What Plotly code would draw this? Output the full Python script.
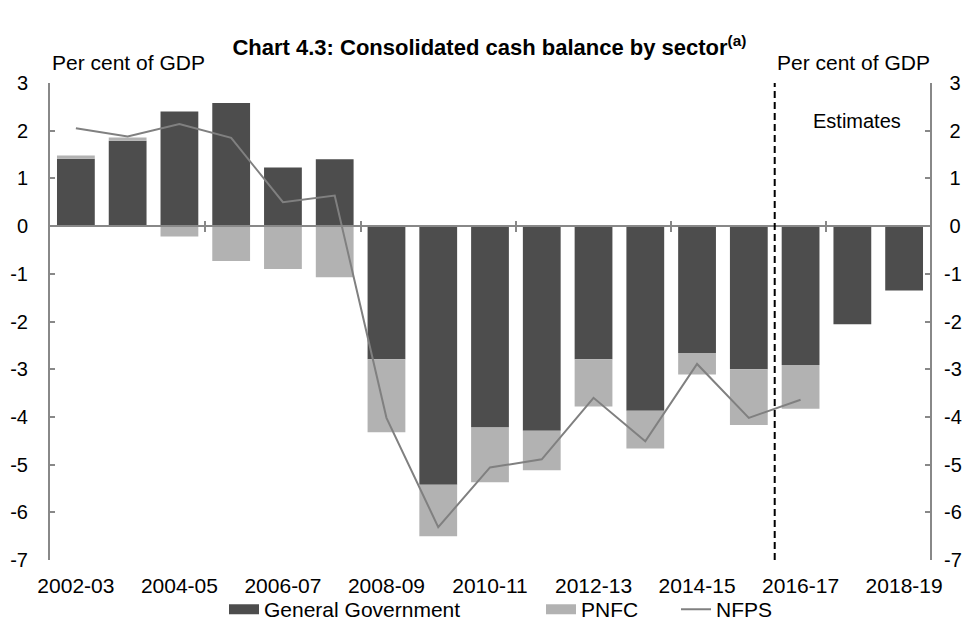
import plotly.graph_objects as go

categories = ["2002-03", "2003-04", "2004-05", "2005-06", "2006-07", "2007-08",
              "2008-09", "2009-10", "2010-11", "2011-12", "2012-13", "2013-14",
              "2014-15", "2015-16", "2016-17", "2017-18", "2018-19"]
general_government = [1.41, 1.79, 2.40, 2.58, 1.23, 1.40, -2.79, -5.42, -4.22,
                      -4.29, -2.79, -3.87, -2.66, -3.00, -2.91, -2.06, -1.35]
pnfc = [0.07, 0.07, -0.22, -0.73, -0.90, -1.07, -1.53, -1.08, -1.15, -0.83,
        -0.99, -0.79, -0.45, -1.17, -0.92, None, None]
nfps = [2.05, 1.88, 2.14, 1.85, 0.50, 0.64, -4.02, -6.31, -5.06, -4.89, -3.60,
        -4.51, -2.89, -4.02, -3.64, None, None]
label_cats = categories[::2]
y_ticks = list(range(-7, 4))
left_tick_text = [str(v) for v in y_ticks]
right_tick_text = [("\u00a0" + str(v)) if v >= 0 else str(v) for v in y_ticks]
estimates_start = "2016-17"

FONT = "Liberation Sans, Arial, sans-serif"
AXIS_GREY = "#888888"
GG_COLOR = "#4d4d4d"
PNFC_COLOR = "#b2b2b2"
NFPS_COLOR = "#808080"

fig = go.Figure()
fig.add_trace(go.Bar(x=categories, y=general_government, name="General Government",
                     marker=dict(color=GG_COLOR, line=dict(width=0)), showlegend=False))
fig.add_trace(go.Bar(x=categories, y=pnfc, name="PNFC",
                     marker=dict(color=PNFC_COLOR, line=dict(width=0)), showlegend=False))
fig.add_trace(go.Scatter(x=categories, y=nfps, name="NFPS", mode="lines",
                         line=dict(color=NFPS_COLOR, width=2), showlegend=False))

# legend entries (wide swatches like the reference), one legend each
fig.add_trace(go.Scatter(x=[None], y=[None], mode="lines", name="General Government",
                         line=dict(color=GG_COLOR, width=16), legend="legend"))
fig.add_trace(go.Scatter(x=[None], y=[None], mode="lines", name="PNFC",
                         line=dict(color=PNFC_COLOR, width=16), legend="legend2"))
fig.add_trace(go.Scatter(x=[None], y=[None], mode="lines", name="NFPS",
                         line=dict(color=NFPS_COLOR, width=2), legend="legend3"))

n = len(categories)
boundary_ticks = [i - 0.5 for i in range(3, n, 3)]
zero_pos = (0 - (-7)) / (3 - (-7))

# invisible helper traces so overlay axes render
fig.add_trace(go.Scatter(x=[-0.5, n - 0.5], y=[0, 0], xaxis="x2", yaxis="y",
                         mode="lines", line=dict(width=0), showlegend=False, hoverinfo="skip"))
fig.add_trace(go.Scatter(x=[-0.5, n - 0.5], y=[0, 0], xaxis="x3", yaxis="y",
                         mode="lines", line=dict(width=0), showlegend=False, hoverinfo="skip"))
fig.add_trace(go.Scatter(x=[categories[0]], y=[0], xaxis="x", yaxis="y2",
                         mode="lines", line=dict(width=0), showlegend=False, hoverinfo="skip"))

est_x = categories.index(estimates_start) - 0.5
fig.add_shape(type="line", xref="x", yref="y", x0=est_x, x1=est_x, y0=-7, y1=3,
              line=dict(color="black", width=2, dash="7px,4px"))

PLOT_L, PLOT_W = 50, 880
LEG_Y = -0.104


def leg(px_left):
    return dict(orientation="h", x=(px_left - PLOT_L) / PLOT_W, xanchor="left",
                y=LEG_Y, yanchor="middle", font=dict(size=21, family=FONT),
                bgcolor="rgba(0,0,0,0)", borderwidth=0)


fig.update_layout(
    template="none",
    width=973, height=626,
    margin=dict(l=50, r=43, t=83, b=66, autoexpand=False),
    paper_bgcolor="white", plot_bgcolor="white",
    barmode="relative", bargap=0.27,
    font=dict(family=FONT, size=20, color="black"),
    title=dict(text="<b>Chart 4.3: Consolidated cash balance by sector<sup>(a)</sup></b>",
               x=0.503, xanchor="center", y=0.924, yanchor="middle",
               font=dict(size=22, family=FONT)),
    xaxis=dict(type="category", range=[-0.5, n - 0.5], tickmode="array",
               tickvals=label_cats, ticktext=label_cats, showline=False,
               showgrid=False, zeroline=False, ticks="outside", ticklen=7,
               tickcolor="rgba(0,0,0,0)", tickfont=dict(size=21), automargin=False),
    xaxis2=dict(overlaying="x", anchor="free", position=zero_pos, range=[-0.5, n - 0.5],
                showline=True, linecolor=AXIS_GREY, linewidth=2, tickmode="array",
                tickvals=boundary_ticks, ticks="outside", ticklen=5, tickcolor=AXIS_GREY,
                tickwidth=1.5, showticklabels=False, showgrid=False, zeroline=False,
                automargin=False),
    xaxis3=dict(overlaying="x", anchor="free", position=zero_pos, range=[-0.5, n - 0.5],
                showline=False, tickmode="array", tickvals=boundary_ticks, ticks="inside",
                ticklen=5, tickcolor=AXIS_GREY, tickwidth=1.5, showticklabels=False,
                showgrid=False, zeroline=False, automargin=False),
    yaxis=dict(range=[-7, 3], tickmode="array", tickvals=y_ticks, ticktext=left_tick_text,
               showline=True, linecolor=AXIS_GREY, linewidth=2,
               ticks="inside", ticklen=5, tickcolor=AXIS_GREY, tickwidth=1.5,
               showgrid=False, zeroline=False, tickfont=dict(size=20),
               ticklabelstandoff=16, automargin=False),
    yaxis2=dict(range=[-7, 3], tickmode="array", tickvals=y_ticks, ticktext=right_tick_text,
                overlaying="y", side="right", showline=True,
                linecolor=AXIS_GREY, linewidth=2, ticks="inside", ticklen=5,
                tickcolor=AXIS_GREY, tickwidth=1.5, showgrid=False, zeroline=False,
                tickfont=dict(size=20), ticklabelstandoff=8, automargin=False),
    legend=leg(224),
    legend2=leg(541),
    legend3=leg(676),
    showlegend=True,
)

fig.add_annotation(text="Per cent of GDP", xref="paper", yref="paper", x=0.0, y=1.0,
                   xanchor="left", yanchor="middle", yshift=21, xshift=0, showarrow=False,
                   font=dict(size=21))
fig.add_annotation(text="Per cent of GDP", xref="paper", yref="paper", x=1.0, y=1.0,
                   xanchor="right", yanchor="middle", yshift=21, xshift=2, showarrow=False,
                   font=dict(size=21))
fig.add_annotation(text="Estimates", xref="paper", yref="y", x=0.917, y=2.2,
                   xanchor="center", yanchor="middle", showarrow=False,
                   font=dict(size=20))

fig.write_html("out.html", config={"displayModeBar": False},
               post_script="document.body.style.margin='0';")
